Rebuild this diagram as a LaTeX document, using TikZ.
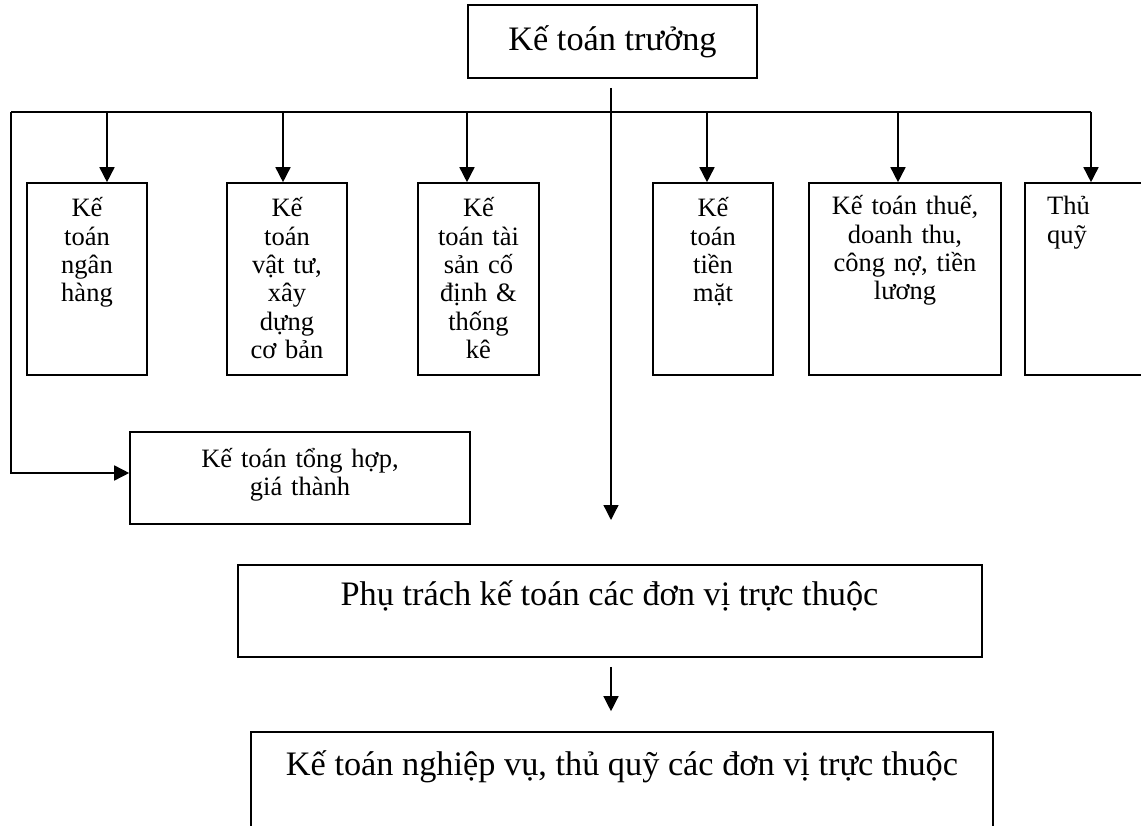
\documentclass[tikz,border=0pt]{standalone}
\usepackage{fontspec}
\setmainfont{Liberation Serif}
\usetikzlibrary{arrows.meta,positioning}

\tikzset{
  box/.style={draw, line width=1.6pt, inner sep=0pt},
  colt/.style={font=\fontsize{26.5}{28.3}\selectfont, align=center, inner sep=0pt},
  bigt/.style={font=\fontsize{34.3}{40}\selectfont, inner sep=0pt},
  conn/.style={line width=1.6pt},
  thin conn/.style={line width=1.3pt},
}

\begin{document}
\begin{tikzpicture}[x=1pt, y=-1pt, >={Triangle[width=15pt,length=15pt]}, line join=miter]
  \useasboundingbox (0,0) rectangle (1141,826);
  \clip (0,0) rectangle (1141,826);

  % top
  \node[box, minimum width=289pt, minimum height=73pt, bigt] (kt) at (612.5,41.5) {Kế toán trưởng};

  % column boxes
  \node[box, minimum width=120pt, minimum height=192pt] (nh) at (87,279) {};
  \node[box, minimum width=120pt, minimum height=192pt] (vt) at (287,279) {};
  \node[box, minimum width=121pt, minimum height=192pt] (ts) at (478.5,279) {};
  \node[box, minimum width=120pt, minimum height=192pt] (tm) at (713,279) {};
  \node[box, minimum width=192pt, minimum height=192pt] (th) at (905,279) {};
  \node[box, minimum width=135pt, minimum height=192pt] (tq) at (1092.5,279) {};

  \node[colt, text width=110pt, anchor=base] (nh-t) at (87,217) {Kế\\toán\\ngân\\hàng};
  \node[colt, text width=110pt, anchor=base] (vt-t) at (287,217) {Kế\\toán\\vật tư,\\xây\\dựng\\cơ bản};
  \node[colt, text width=110pt, anchor=base] (ts-t) at (478.5,217) {Kế\\toán tài\\sản cố\\định \&\\thống\\kê};
  \node[colt, text width=110pt, anchor=base] (tm-t) at (713,217) {Kế\\toán\\tiền\\mặt};
  \node[colt, text width=180pt, anchor=base] (th-t) at (905,215) {Kế toán thuế,\\doanh thu,\\công nợ, tiền\\lương};
  \node[colt, text width=80pt, align=left, anchor=base west] (tq-t) at (1047,215) {Thủ\\quỹ};

  % tong hop
  \node[box, minimum width=340pt, minimum height=92pt] (tongh) at (300,478) {};
  \node[colt, text width=320pt, anchor=base] (tongh-t) at (300,467) {Kế toán tổng hợp,\\giá thành};

  % lower boxes
  \node[box, minimum width=744pt, minimum height=92pt] (pt) at (610,611) {};
  \node[bigt, anchor=base] (pt-t) at (609.5,605) {Phụ trách kế toán các đơn vị trực thuộc};
  \node[box, minimum width=742pt, minimum height=148pt] (nv) at (622,806) {};
  \node[bigt, anchor=base] (nv-t) at (622,775) {Kế toán nghiệp vụ, thủ quỹ các đơn vị trực thuộc};

  % bus
  \coordinate (busL) at (11,112);
  \coordinate (busR) at (1091,112);
  \coordinate (tl) at (11,473);
  \coordinate (a1) at (107,112);
  \coordinate (a2) at (283,112);
  \coordinate (a3) at (467,112);
  \coordinate (a4) at (707,112);
  \coordinate (a5) at (898,112);
  \coordinate (ctop) at (611,88);
  \coordinate (ctip) at (611,520);

  \draw[conn] (busL) -- (busR);
  \draw[conn,->] (busR) -- (busR |- tq.north);
  \draw[conn,->] (a1) -- (a1 |- nh.north);
  \draw[conn,->] (a2) -- (a2 |- vt.north);
  \draw[conn,->] (a3) -- (a3 |- ts.north);
  \draw[conn,->] (a4) -- (a4 |- tm.north);
  \draw[conn,->] (a5) -- (a5 |- th.north);
  \draw[conn,->] (busL) -- (tl) -- (tl -| tongh.west);
  \draw[thin conn,->] (ctop) -- (ctip);
  \draw[thin conn,->] ([yshift=-9pt]pt.south -| ctop) -- ([yshift=20pt]nv.north -| ctop);
\end{tikzpicture}
\end{document}
